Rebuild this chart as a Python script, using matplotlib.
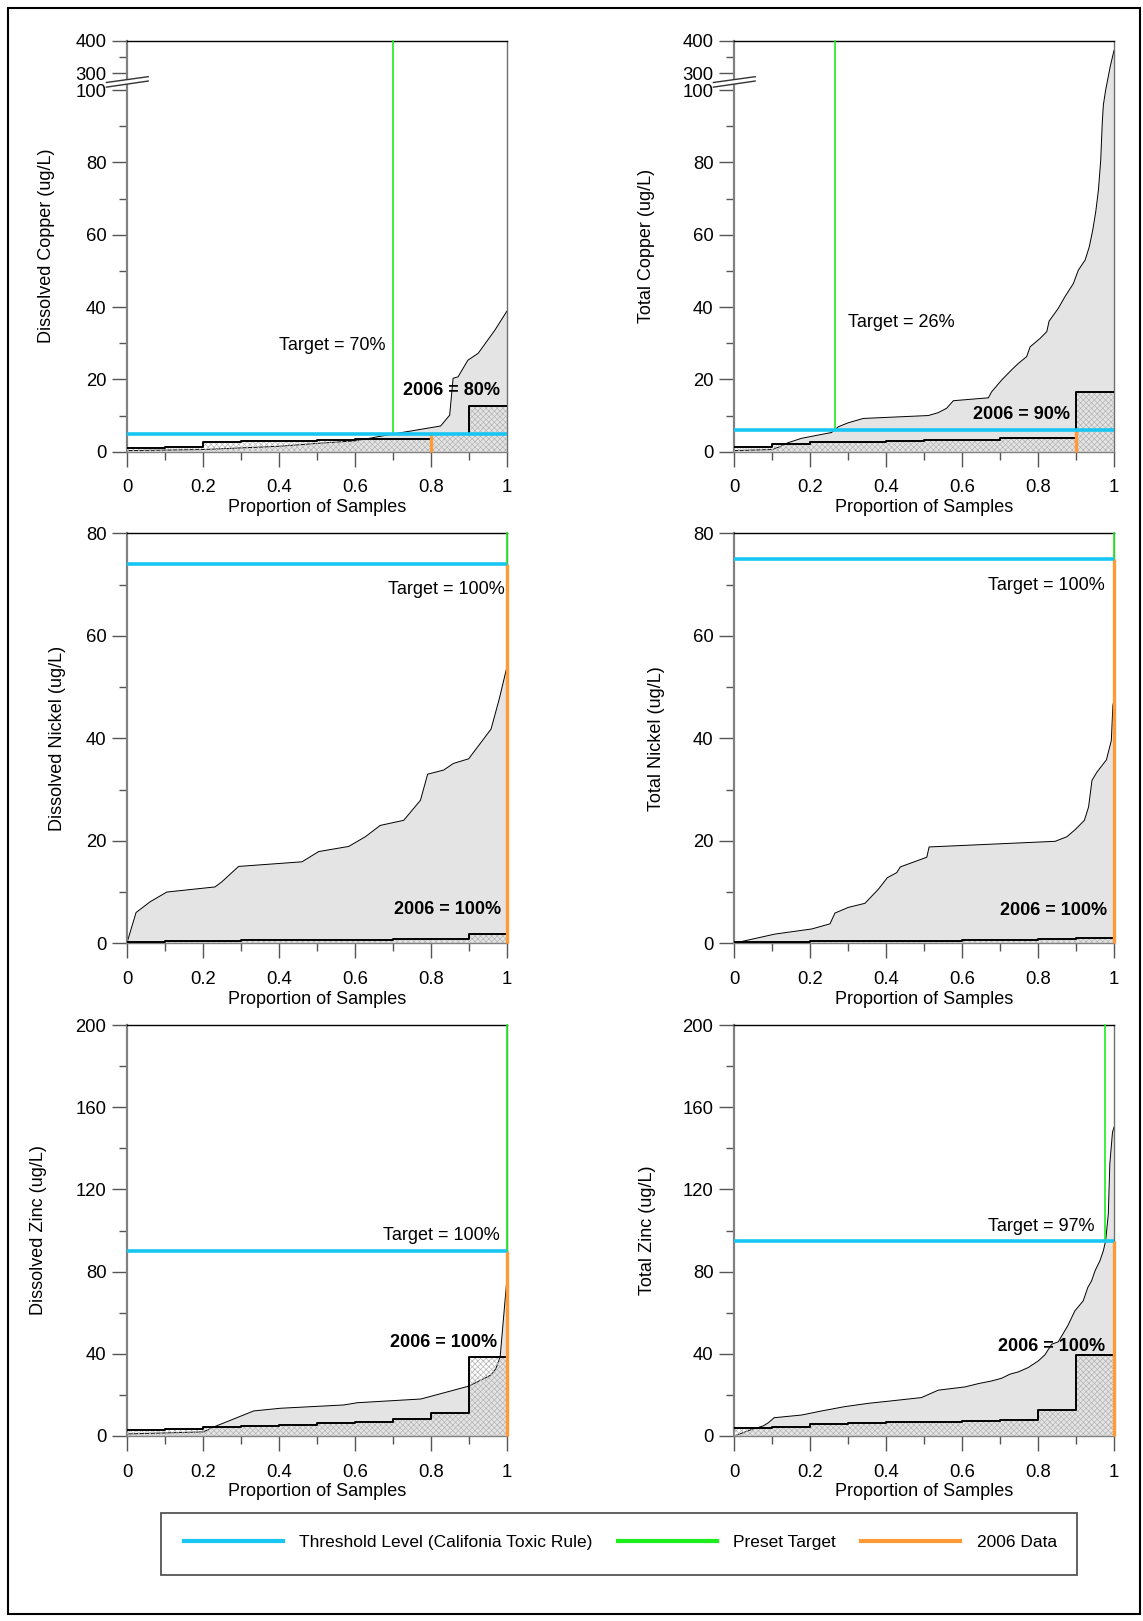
import numpy as np
import matplotlib
matplotlib.use("Agg")
import matplotlib.pyplot as plt
from matplotlib.lines import Line2D
from matplotlib.patches import Rectangle, Polygon
from matplotlib.ticker import FuncFormatter
from matplotlib.transforms import blended_transform_factory

plt.rcParams["font.family"] = ["Liberation Sans", "DejaVu Sans"]
plt.rcParams["hatch.linewidth"] = 0.5

# ---------------- data (ug/L) ----------------
# historic record: proportion of samples vs concentration
cu_dis_hist_p = [0, 0.2, 0.4, 0.5, 0.6, 0.70, 0.825, 0.849, 0.858, 0.871, 0.897, 0.924, 0.946, 0.968, 1.0]
cu_dis_hist_v = [0.3, 0.6, 1.5, 2.3, 3.0, 4.9, 7.1, 10.1, 20.3, 20.7, 25.3, 27.2, 30.4, 33.6, 38.9]
cu_dis_2006 = [1.0, 1.4, 2.6, 2.9, 3.0, 3.1, 3.4, 3.5, 4.95, 12.6]

cu_tot_hist_p = [0, 0.1, 0.12, 0.142, 0.177, 0.221, 0.256, 0.274, 0.300, 0.340, 0.511, 0.537, 0.559,
                 0.577, 0.669, 0.678, 0.704, 0.730, 0.748, 0.770, 0.779, 0.805, 0.823, 0.829, 0.853,
                 0.871, 0.893, 0.906, 0.924, 0.935, 0.944, 0.952, 0.959, 0.965, 0.969, 0.972, 0.978,
                 0.99, 1.0]
cu_tot_hist_v = [0.3, 0.6, 1.4, 2.5, 3.7, 4.6, 5.3, 6.9, 8.0, 9.2, 10.0, 10.8, 12.0,
                 14.1, 14.9, 16.6, 19.8, 22.6, 24.4, 26.3, 29.0, 31.3, 33.2, 36.1, 39.6,
                 42.9, 46.5, 50.2, 53.0, 56.7, 61.3, 66.4, 72.4, 80.6, 90.8, 95.9, 100,
                 320, 370]
cu_tot_2006 = [1.2, 2.0, 2.8, 2.8, 2.9, 3.1, 3.2, 3.7, 3.7, 16.6]

ni_dis_hist_p = [0, 0.023, 0.06, 0.104, 0.231, 0.249, 0.293, 0.46, 0.504, 0.583, 0.627, 0.666,
                 0.728, 0.772, 0.791, 0.833, 0.859, 0.899, 0.958, 0.980, 1.0]
ni_dis_hist_v = [0.3, 6.0, 8.1, 10.0, 11.0, 12.0, 15.0, 15.9, 17.9, 18.9, 20.8, 23.0,
                 24.0, 27.9, 33.0, 33.8, 35.1, 36.0, 41.8, 47.8, 54.0]
ni_dis_2006 = [0.3, 0.45, 0.5, 0.6, 0.65, 0.7, 0.7, 0.8, 0.9, 1.9]

ni_tot_hist_p = [0, 0.01, 0.107, 0.204, 0.252, 0.265, 0.30, 0.344, 0.38, 0.403, 0.428, 0.437,
                 0.507, 0.513, 0.845, 0.876, 0.898, 0.922, 0.933, 0.942, 0.955, 0.98, 0.993,
                 0.997, 1.0]
ni_tot_hist_v = [0.1, 0.2, 1.8, 2.8, 3.8, 5.9, 7.0, 7.8, 10.6, 12.8, 13.8, 14.9,
                 16.8, 18.8, 19.9, 20.8, 22.2, 24.0, 26.6, 31.8, 33.4, 35.8, 39.6,
                 46.4, 47.5]
ni_tot_2006 = [0.3, 0.3, 0.4, 0.4, 0.5, 0.5, 0.6, 0.7, 0.8, 1.0]

zn_dis_hist_p = [0, 0.2, 0.229, 0.333, 0.403, 0.57, 0.606, 0.773, 0.90, 0.958, 0.971, 0.982, 1.0]
zn_dis_hist_v = [1.0, 2.0, 4.5, 12.2, 13.5, 15.1, 16.2, 18.0, 24.3, 29.7, 32.9, 38.6, 77.0]
zn_dis_2006 = [2.9, 3.4, 4.5, 4.9, 5.4, 6.5, 7.0, 8.4, 11.0, 38.3]

zn_tot_hist_p = [0, 0.046, 0.076, 0.09, 0.105, 0.177, 0.23, 0.291, 0.353, 0.414, 0.493, 0.537,
                 0.608, 0.643, 0.678, 0.704, 0.726, 0.748, 0.774, 0.801, 0.818, 0.836, 0.853,
                 0.878, 0.897, 0.919, 0.931, 0.941, 0.950, 0.963, 0.972, 0.978, 0.985, 0.989,
                 0.996, 1.0]
zn_tot_hist_v = [0, 3.2, 4.9, 6.5, 8.9, 10.2, 12.2, 14.3, 15.9, 17.1, 18.7, 22.3,
                 23.9, 25.5, 26.8, 28.1, 30.1, 31.2, 33.3, 36.6, 39.5, 44.7, 45.8,
                 53.6, 60.9, 65.8, 72.3, 75.5, 80.4, 85.3, 90.2, 95.0, 108.0, 132.4,
                 147.8, 150.3]
zn_tot_2006 = [3.9, 4.4, 5.7, 6.3, 7.0, 7.0, 7.3, 7.6, 12.5, 39.3]

# CTR thresholds, preset targets and 2006 compliance (proportions)
thresholds = [4.9, 5.9, 74, 75, 90, 95]
targets = [0.70, 0.265, 1.0, 1.0, 1.0, 0.975]
pct_2006 = [0.80, 0.90, 1.0, 1.0, 1.0, 1.0]
target_labels = ["Target = 70%", "Target = 26%", "Target = 100%", "Target = 100%",
                 "Target = 100%", "Target = 97%"]
data_labels = ["2006 = 80%", "2006 = 90%", "2006 = 100%", "2006 = 100%",
               "2006 = 100%", "2006 = 100%"]
ylabels = ["Dissolved Copper (ug/L)", "Total Copper (ug/L)", "Dissolved Nickel (ug/L)",
           "Total Nickel (ug/L)", "Dissolved Zinc (ug/L)", "Total Zinc (ug/L)"]

CYAN = "#17c6f2"
GREEN = "#1bee1b"
ORANGE = "#ff9a36"

# broken axis (0-100 linear, gap, 300-400 compressed)
GAP = 4.7
K = 0.0894


def brk_fwd(v):
    v = np.asarray(v, dtype=float)
    return np.where(v <= 100, v,
                    np.where(v < 300, 100 + (v - 100) * GAP / 200,
                             100 + GAP + (v - 300) * K))


def brk_inv(t):
    t = np.asarray(t, dtype=float)
    return np.where(t <= 100, t,
                    np.where(t < 100 + GAP, 100 + (t - 100) * 200 / GAP,
                             300 + (t - 100 - GAP) / K))


W, H = 1143, 1621
fig = plt.figure(figsize=(W / 100, H / 100), dpi=100)

col_left = [127.3, 734.3]
ax_w = 379.7
row_top = [40.7, 533.3, 1025.0]
row_bot = [451.7, 943.3, 1436.0]

panels = [
    (cu_dis_hist_p, cu_dis_hist_v, cu_dis_2006),
    (cu_tot_hist_p, cu_tot_hist_v, cu_tot_2006),
    (ni_dis_hist_p, ni_dis_hist_v, ni_dis_2006),
    (ni_tot_hist_p, ni_tot_hist_v, ni_tot_2006),
    (zn_dis_hist_p, zn_dis_hist_v, zn_dis_2006),
    (zn_tot_hist_p, zn_tot_hist_v, zn_tot_2006),
]
# text placement: (target x, target y, target ha, data x, data y)
text_pos = [
    (0.68, 29.3, "right", 0.981, 16.8),
    (0.30, 35.7, "left", 0.884, 10.4),
    (0.993, 69.1, "right", 0.985, 6.5),
    (0.976, 69.9, "right", 0.983, 6.4),
    (0.98, 97.8, "right", 0.975, 45.6),
    (0.948, 101.9, "right", 0.976, 43.5),
]
ylabel_off = [80.6, 87.8, 70.3, 77.5, 88.9, 86.8]

for i, (hp, hv, v06) in enumerate(panels):
    r, c = divmod(i, 2)
    l = col_left[c]
    t, b = row_top[r], row_bot[r]
    ax = fig.add_axes([l / W, 1 - b / H, ax_w / W, (b - t) / H])

    if r == 0:
        ax.set_yscale("function", functions=(brk_fwd, brk_inv))
        ymax = 400
        ax.set_yticks([0, 20, 40, 60, 80, 100, 300, 400])
        ax.set_yticks([10, 30, 50, 70, 90, 350], minor=True)
    elif r == 1:
        ymax = 80
        ax.set_yticks(np.arange(0, 81, 20))
        ax.set_yticks(np.arange(10, 80, 20), minor=True)
    else:
        ymax = 200
        ax.set_yticks(np.arange(0, 201, 40))
        ax.set_yticks(np.arange(20, 200, 40), minor=True)
    ax.set_ylim(0, ymax)
    ax.set_xlim(0, 1)
    ax.set_xticks(np.arange(0, 1.01, 0.2))
    ax.set_xticks(np.arange(0.1, 1.0, 0.2), minor=True)
    ax.xaxis.set_major_formatter(FuncFormatter(lambda v, _: f"{v:g}"))
    ax.yaxis.set_major_formatter(FuncFormatter(lambda v, _: f"{v:g}"))

    # historic distribution
    ax.fill_between(hp, 0, hv, facecolor="#e4e4e4", linewidth=0, zorder=1)
    ax.plot(hp, hv, color="black", lw=0.7, zorder=2)

    # 2006 data (empirical distribution, step)
    n = len(v06)
    edges = np.linspace(0, 1, n + 1)
    vals = np.append(v06, v06[-1])
    ax.fill_between(edges, 0, vals, step="post", facecolor="none", hatch="xxxxxx",
                    edgecolor="#b5b5b5", linewidth=0, zorder=3)
    ax.step(edges, vals, where="post", color="black", lw=1.4, zorder=4)

    thr = thresholds[i]
    ax.plot([0, 1], [thr, thr], color=CYAN, lw=2.6, zorder=6, clip_on=False,
            solid_capstyle="butt")
    ax.plot([targets[i]] * 2, [thr, ymax], color=GREEN, lw=1.2, zorder=5, clip_on=False)
    ax.plot([pct_2006[i]] * 2, [0, thr], color=ORANGE, lw=2.4, zorder=5, clip_on=False,
            solid_capstyle="butt")

    tx, ty, tha, dx, dy = text_pos[i]
    ax.text(tx, ty, target_labels[i], ha=tha, va="center", fontsize=13, zorder=8)
    ax.text(dx, dy, data_labels[i], ha="right", va="center", fontsize=13,
            fontweight="bold", zorder=8)

    for s in ("left", "bottom"):
        ax.spines[s].set_color("#808080")
    ax.spines["left"].set_linewidth(1.6)
    ax.spines["bottom"].set_linewidth(1.0)
    ax.spines["top"].set_color("black")
    ax.spines["top"].set_linewidth(1.0)
    ax.spines["right"].set_color("#707070")
    ax.spines["right"].set_linewidth(1.0)
    ax.tick_params(which="major", direction="out", length=11, width=1, color="#555555",
                   labelsize=13.3, pad=4)
    ax.tick_params(which="minor", direction="out", length=6, width=1, color="#555555")
    ax.tick_params(axis="x", which="major", pad=9)

    ax.set_xlabel("Proportion of Samples", fontsize=13, va="center")
    ax.xaxis.set_label_coords(0.5, -56.0 / (b - t))
    ax.set_ylabel(ylabels[i], fontsize=13, va="center")
    ax.yaxis.set_label_coords(-ylabel_off[i] / ax_w, 0.5)

    if r == 0:
        tr = blended_transform_factory(ax.transAxes, ax.transData)
        x0, x1 = -0.055, 0.055
        upper = [(x0, 189), (x1, 257)]
        lower = [(x0, 134), (x1, 206)]
        ax.add_patch(Polygon(upper + lower[::-1], closed=True, facecolor="white",
                             edgecolor="none", transform=tr, clip_on=False, zorder=9))
        for seg in (upper, lower):
            ax.add_line(Line2D([p[0] for p in seg], [p[1] for p in seg], color="#333333",
                               lw=1.0, transform=tr, clip_on=False, zorder=10))

# legend
fig.patches.append(Rectangle((161 / W, 1 - 1575 / H), (1077 - 161) / W, (1575 - 1513) / H,
                             transform=fig.transFigure, fill=False, edgecolor="#555555",
                             lw=1.3))
handles = [Line2D([], [], color=CYAN, lw=3),
           Line2D([], [], color=GREEN, lw=3),
           Line2D([], [], color=ORANGE, lw=3)]
fig.legend(handles, ["Threshold Level (Califonia Toxic Rule)", "Preset Target", "2006 Data"],
           loc="center left", bbox_to_anchor=(184 / W, 1 - 1542 / H), ncol=3, frameon=False,
           fontsize=12.5, handlelength=5.7, handletextpad=0.95, columnspacing=1.45,
           borderpad=0, borderaxespad=0)

# outer frame
fig.patches.append(Rectangle((8 / W, 1 - 1614 / H), (1140 - 8) / W, (1614 - 8) / H,
                             transform=fig.transFigure, fill=False, edgecolor="black", lw=1.5))

fig.savefig("out.png", dpi=100)
